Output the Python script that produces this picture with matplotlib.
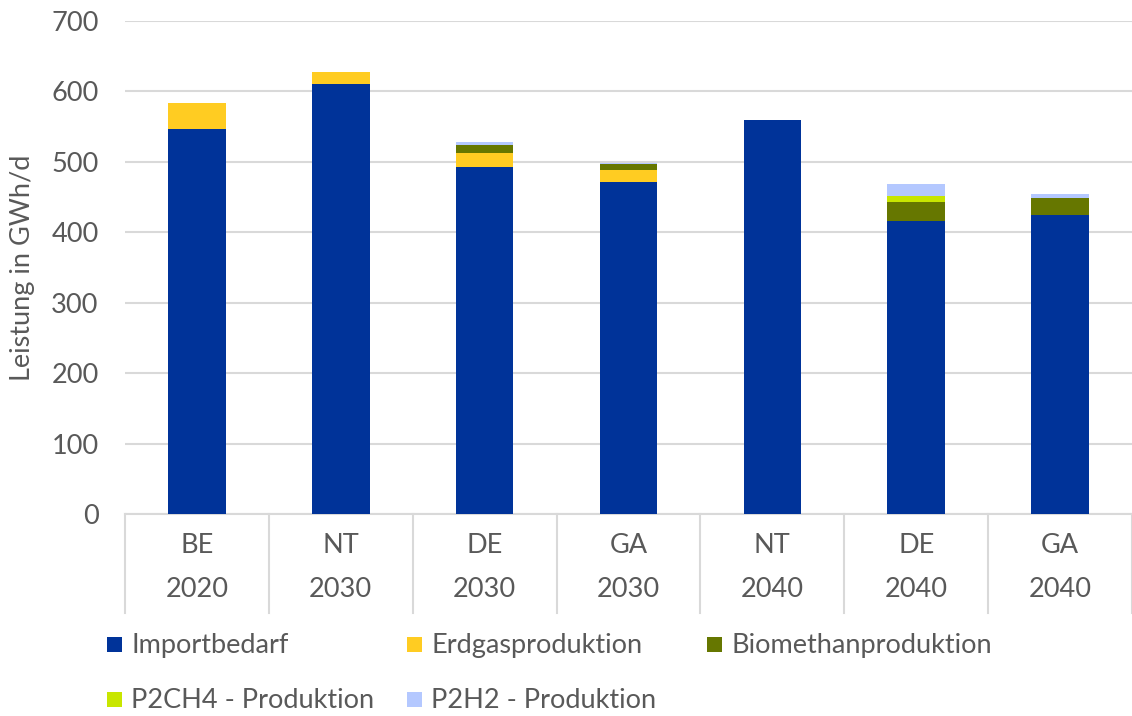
import matplotlib
matplotlib.use("Agg")
import matplotlib.pyplot as plt
from matplotlib.patches import Rectangle
import numpy as np

# --- data (GWh/d) ---
scenarios = ["BE", "NT", "DE", "GA", "NT", "DE", "GA"]
years = ["2020", "2030", "2030", "2030", "2040", "2040", "2040"]

importbedarf = [547, 610, 493, 471, 560, 416, 425]
erdgas = [36, 18, 20, 17, 0, 0, 0]
biomethan = [0, 0, 11, 9, 0, 27, 23]
p2ch4 = [0, 0, 0, 0, 0, 9, 1]
p2h2 = [0, 0, 4, 2, 0, 16, 5]

series_names = ["Importbedarf", "Erdgasproduktion", "Biomethanproduktion",
                "P2CH4 - Produktion", "P2H2 - Produktion"]
series_colors = ["#003399", "#ffcc22", "#667700", "#c8e600", "#b4c8ff"]

TXT = "#595959"
GRID = "#d9d9d9"
FS = 19.5

plt.rcParams["font.family"] = ["Lato", "DejaVu Sans"]

fig = plt.figure(figsize=(11.32, 7.16), dpi=100)
ax = fig.add_axes([0.1104, 0.2821, 0.8896, 0.6886])

x = np.arange(len(scenarios))
bottom = np.zeros(len(scenarios))
for vals, color in zip([importbedarf, erdgas, biomethan, p2ch4, p2h2], series_colors):
    v = np.array(vals, dtype=float)
    ax.bar(x, v, width=0.4, bottom=bottom, color=color, linewidth=0, zorder=3)
    bottom += v

ax.set_xlim(-0.5, len(scenarios) - 0.5)
ax.set_ylim(0, 700)
ax.set_yticks(range(0, 701, 100))
ax.yaxis.grid(True, color=GRID, linewidth=1.5, zorder=0)
ax.tick_params(axis="y", length=0, pad=19, labelsize=FS, labelcolor=TXT)
ax.set_xticks([])
for s in ["top", "right", "left"]:
    ax.spines[s].set_visible(False)
ax.spines["bottom"].set_color(GRID)
ax.spines["bottom"].set_linewidth(1.5)

ax.set_ylabel("Leistung in GWh/d", fontsize=FS, color=TXT, labelpad=12)

# two-level category axis
trans = ax.get_xaxis_transform()
for i, (s, yr) in enumerate(zip(scenarios, years)):
    ax.text(i, -0.063, s, transform=trans, ha="center", va="center",
            fontsize=FS, color=TXT)
    ax.text(i, -0.154, yr, transform=trans, ha="center", va="center",
            fontsize=FS, color=TXT)
for b in np.arange(-0.5, len(scenarios), 1.0):
    ax.plot([b, b], [0, -0.2], transform=trans, color=GRID, linewidth=1.5,
            clip_on=False, zorder=1)

# legend, laid out like the original (two rows, fixed column spacing)
leg_pos = [(107, 645), (407, 645), (707, 645), (107, 700), (407, 700)]
W, H = 1132, 716
for name, color, (px, py) in zip(series_names, series_colors, leg_pos):
    fig.patches.append(Rectangle((px / W, (H - py - 7) / H), 15 / W, 15 / H,
                                 transform=fig.transFigure, color=color,
                                 linewidth=0))
    fig.text((px + 24) / W, (H - py) / H, name, ha="left", va="center",
             fontsize=FS, color=TXT)

fig.savefig("out.png", dpi=100)
